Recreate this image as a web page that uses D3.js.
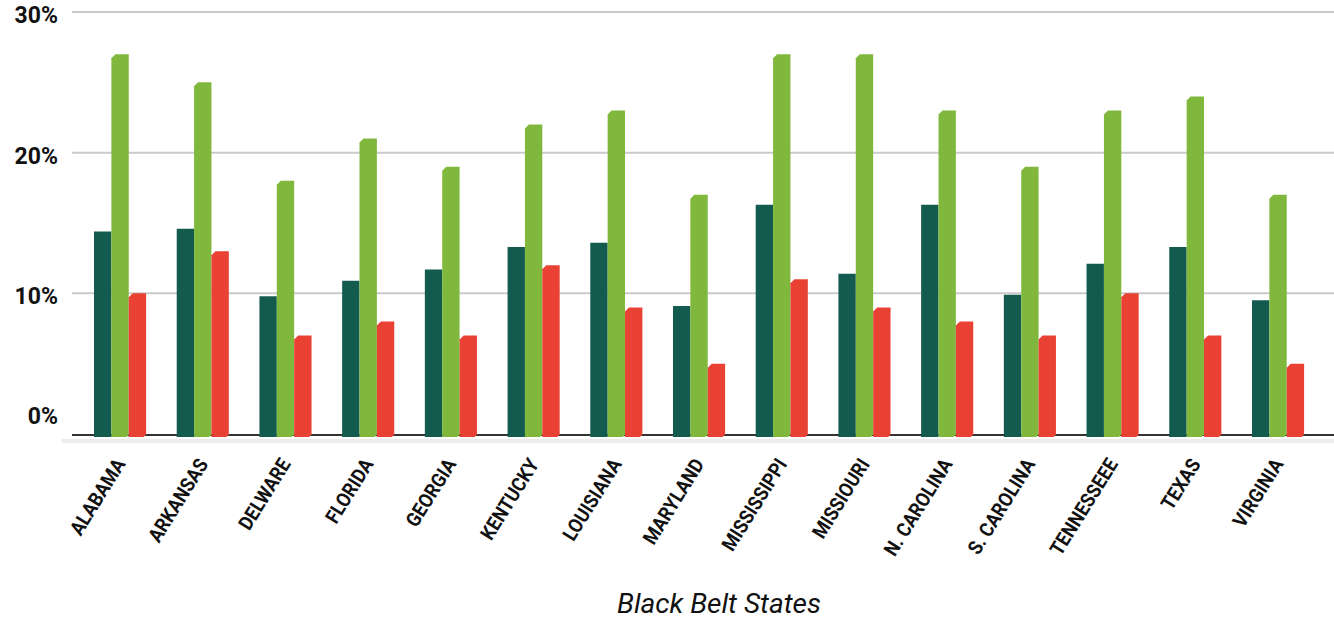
<!DOCTYPE html>
<html>
<head>
<meta charset="utf-8">
<script src="https://cdn.jsdelivr.net/npm/d3@7"></script>
<style>
  html, body { margin: 0; padding: 0; background: #fff; }
  svg { display: block; }
</style>
</head>
<body>
<svg id="chart" width="1334" height="622"></svg>
<script>
// Black Belt states, three percentage series per state
const states = ["ALABAMA", "ARKANSAS", "DELWARE", "FLORIDA", "GEORGIA", "KENTUCKY", "LOUISIANA",
  "MARYLAND", "MISSISSIPPI", "MISSIOURI", "N. CAROLINA", "S. CAROLINA", "TENNESSEEE", "TEXAS", "VIRGINIA"];
const seriesA = [14.4, 14.6, 9.8, 10.9, 11.7, 13.3, 13.6, 9.1, 16.3, 11.4, 16.3, 9.9, 12.1, 13.3, 9.5];
const seriesB = [27, 25, 18, 21, 19, 22, 23, 17, 27, 27, 23, 19, 23, 24, 17];
const seriesC = [10, 13, 7, 8, 7, 12, 9, 5, 11, 9, 8, 7, 10, 7, 5];
const yTicks = [0, 10, 20, 30];
const xTitle = "Black Belt States";

const seriesKeys = ["a", "b", "c"];
const colors = { a: "#135b4f", b: "#80b83d", c: "#e94234" };
const rows = states.map((s, i) => ({ state: s, a: seriesA[i], b: seriesB[i], c: seriesC[i] }));

const svg = d3.select("#chart");
const W = 1334;

const y = d3.scaleLinear().domain([0, 30]).range([434, 12]);
const x = d3.scaleBand().domain(states).range([78.7, 1319.4]).paddingInner(0.37).paddingOuter(0.185);
const xs = d3.scaleBand().domain(seriesKeys).range([0, x.bandwidth()]).padding(0);

// gridlines
svg.append("g")
  .selectAll("line")
  .data(yTicks.filter(d => d > 0))
  .join("line")
  .attr("x1", 72).attr("x2", W)
  .attr("y1", d => y(d)).attr("y2", d => y(d))
  .attr("stroke", "#cacaca").attr("stroke-width", 2);

// y axis labels
const yAxis = svg.append("g")
  .attr("transform", "translate(58,0)")
  .call(d3.axisLeft(y).tickValues(yTicks).tickFormat(d => d + "%").tickSize(0).tickPadding(0));
yAxis.select(".domain").remove();
yAxis.selectAll("text")
  .attr("font-family", "Roboto, 'Noto Sans', sans-serif")
  .attr("font-weight", 700)
  .attr("font-size", 23)
  .attr("fill", "#111")
  .attr("dy", d => d === 0 ? "-0.45em" : "0.45em");

// baseline shadow and baseline
svg.append("line")
  .attr("x1", 62).attr("x2", W)
  .attr("y1", y(0) + 7).attr("y2", y(0) + 7)
  .attr("stroke", "#ececec").attr("stroke-width", 4);
svg.append("line")
  .attr("x1", 72).attr("x2", W)
  .attr("y1", y(0) + 1).attr("y2", y(0) + 1)
  .attr("stroke", "#333").attr("stroke-width", 2);

// bars with a small bevel on the top-left corner for the lighter series
function barPath(x0, w, top, bottom, bevel) {
  const b = Math.min(bevel, w / 3);
  const p = d3.path();
  p.moveTo(x0, top + b);
  p.lineTo(x0 + b, top);
  p.lineTo(x0 + w, top);
  p.lineTo(x0 + w, bottom - b * 0.6);
  p.lineTo(x0 + w - b * 0.6, bottom);
  p.lineTo(x0, bottom);
  p.closePath();
  return p.toString();
}

const groups = svg.append("g")
  .selectAll("g")
  .data(rows)
  .join("g")
  .attr("transform", d => `translate(${x(d.state)},0)`);

groups.selectAll("path")
  .data(d => seriesKeys.map(k => ({ key: k, value: d[k] })))
  .join("path")
  .attr("d", d => barPath(xs(d.key), xs.bandwidth(), y(d.value), y(0) + 3, d.key === "a" ? 0 : 4))
  .attr("fill", d => colors[d.key]);

// category labels, rotated
svg.append("g")
  .selectAll("text")
  .data(states)
  .join("text")
  .attr("transform", d => `translate(${x(d) + x.bandwidth() / 2 + 6},${y(0) + 30}) rotate(-58) scale(0.9,1)`)
  .attr("text-anchor", "end")
  .attr("font-family", "Roboto, 'Noto Sans', sans-serif")
  .attr("font-weight", 700)
  .attr("font-size", 20)
  .attr("fill", "#111")
  .text(d => d);

// x axis title
svg.append("text")
  .attr("x", 719).attr("y", 613)
  .attr("text-anchor", "middle")
  .attr("font-family", "Roboto, 'Noto Sans', sans-serif")
  .attr("font-style", "italic")
  .attr("font-size", 28)
  .attr("fill", "#111")
  .text(xTitle);
</script>
</body>
</html>
